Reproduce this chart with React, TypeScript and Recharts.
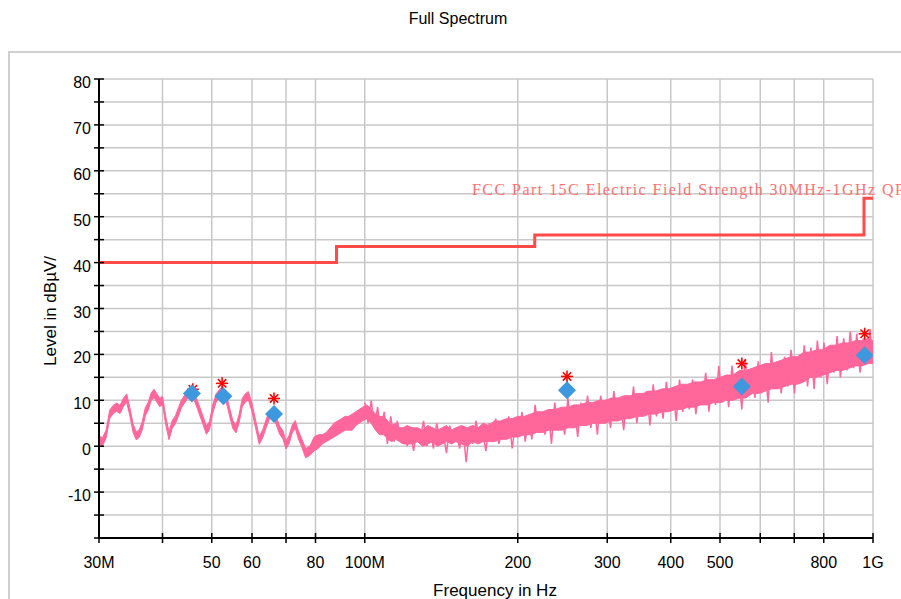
import { Area, CartesianGrid, ComposedChart, Line, Scatter, XAxis, YAxis } from 'recharts'

// measured trace, frequency in MHz, low/high edge of the pink trace in dBµV/m
const freqMHz = [
  30, 30.5, 31, 31.5, 32, 32.5, 33, 33.5, 34, 34.5, 35, 35.5, 36, 36.5, 37, 37.5, 38, 38.5, 39, 39.5,
  40, 40.6, 41.2, 41.8, 42.4, 43, 43.6, 44.2, 44.8, 45.4, 46, 46.7, 47.4, 48.1, 48.8, 49.5, 50.2, 51, 51.8, 52.6,
  53.4, 54.2, 55, 55.8, 56.6, 57.4, 58.2, 59, 60, 61, 62, 63, 64, 65, 66, 67, 68, 69, 70, 71,
  72, 73, 74, 75, 76.5, 78, 79.5, 81, 82.5, 84, 85.5, 87, 88.5, 90, 91.5, 93, 94.5, 96, 97.5, 99,
  101, 103, 105, 107, 109, 111, 113, 115, 117, 119, 121, 124, 127, 130, 133, 136, 139, 142, 145, 148,
  151, 155, 159, 163, 167, 171, 175, 180, 185, 190, 195, 200, 206, 212, 218, 224, 230, 237, 244, 251,
  258, 265, 273, 281, 289, 297, 306, 315, 324, 333, 343, 353, 363, 374, 385, 396, 408, 420, 432, 445,
  458, 472, 486, 500, 515, 530, 546, 562, 579, 596, 614, 632, 651, 670, 690, 710, 731, 753, 775, 798,
  822, 846, 871, 897, 924, 951, 979, 1000,
]
const levelLow = [
  0.4, 0.1, 1.9, 6.1, 7.1, 7.6, 7.1, 8.6, 9.6, 6.6, 3.1, 1.4, 1.9, 3.6, 6.6, 7.9, 9.9, 10.6, 9.6, 8.6,
  9.1, 4.6, 1.4, 3.9, 4.9, 6.6, 8.4, 9.4, 10.4, 10.9, 10.4, 8.6, 6.6, 4.6, 2.6, 3.6, 7.1, 9.6, 10.6, 11.1,
  9.6, 6.6, 3.9, 2.9, 5.1, 8.6, 9.6, 10.1, 7.6, 3.9, 0.4, 1.9, 4.1, 6.1, 6.4, 4.6, 2.6, 1.6, -0.6, 0.6,
  2.9, 3.9, 1.6, 0.1, -2.5, -2, -1, -0.5, 0.5, 1, 1.5, 2, 2.5, 3, 3.5, 3.5, 3.5, 4.5, 5, 5.5,
  6, 5, 3.5, 2.5, 2.5, 1.5, 1, 1.5, 1, 0.5, 0.5, 0.5, 1, 0, 0.5, 1, 0, 0.5, 1, 0.5,
  1, 0.5, 0, 1, 0.5, 1, 1, 1, 1.5, 1.5, 2, 2, 2.5, 2.5, 3, 3, 3.5, 3.5, 3.5, 4,
  4, 4.5, 4.5, 5, 5, 5, 5.5, 5.5, 6, 6, 6.5, 6.5, 7, 7, 7.5, 7.5, 8, 8, 8.5, 8.5,
  9, 9, 9.5, 9.5, 10, 10, 10.5, 10.5, 11.5, 11.5, 12, 12.5, 12.5, 13, 13.5, 13.5, 14, 15, 15, 15.5,
  16, 16.5, 16.5, 17, 17.5, 17.5, 18, 18,
]
const levelHigh = [
  2.1, 1.9, 3.6, 7.9, 8.9, 9.4, 8.9, 10.4, 11.4, 8.4, 4.9, 3.1, 3.6, 5.4, 8.4, 9.6, 11.6, 12.4, 11.4, 10.4,
  10.9, 6.4, 3.1, 5.6, 6.6, 8.4, 10.1, 11.1, 12.1, 12.6, 12.1, 10.4, 8.4, 6.4, 4.4, 5.4, 8.9, 11.4, 12.4, 12.9,
  11.4, 8.4, 5.6, 4.6, 6.9, 10.4, 11.4, 11.9, 9.4, 5.6, 2.1, 3.6, 5.9, 7.9, 8.1, 6.4, 4.4, 3.4, 1.1, 2.4,
  4.6, 5.6, 3.4, 1.9, -0.5, 0, 2, 2.5, 2.5, 3, 4, 5, 5.5, 6, 6.5, 6.5, 7, 7.5, 8, 8.5,
  9, 8, 7, 6.5, 6.5, 5.5, 4.5, 5, 4, 4, 4.5, 4, 4, 3.5, 4.5, 4, 3.5, 4, 4.5, 3.5,
  4, 4.5, 4, 4.5, 4, 5, 4.5, 5.5, 5.5, 6, 6, 6.5, 6.5, 7, 7.5, 7.5, 8, 8, 8.5, 8.5,
  9, 9, 9.5, 9.5, 10, 10, 10.5, 10.5, 11, 11, 11.5, 11.5, 12, 12, 12.5, 12.5, 13, 13.5, 13.5, 14,
  14, 14.5, 14.5, 15, 15.5, 15.5, 16.5, 16.5, 17, 17.5, 18, 18, 18.5, 19, 19.5, 19.5, 20.5, 20.5, 21, 21,
  22, 22, 22.5, 22.5, 23, 23, 23.5, 23,
]

// fine noise of the trace above 100 MHz, read spike by spike
const noiseFreqMHz = [
  100, 101.5, 103, 104.5, 106, 107.6, 109.2, 110.8, 112.5, 114.2,
  115.9, 117.6, 119.4, 121.2, 123, 124.8, 126.7, 128.6, 130.5, 132.5,
  134.5, 136.5, 138.5, 140.6, 142.7, 144.8, 147, 149.2, 151.4, 153.7,
  156, 158.3, 160.7, 163.1, 165.5, 168, 170.5, 173.1, 175.7, 178.3,
  181, 183.7, 186.5, 189.3, 192.1, 195, 197.9, 200.9, 203.9, 206.9,
  210, 213.2, 216.4, 219.6, 222.9, 226.2, 229.6, 233, 236.5, 240,
  243.6, 247.3, 251, 254.7, 258.5, 262.4, 266.3, 270.3, 274.4, 278.5,
  282.7, 286.9, 291.2, 295.6, 300, 304.5, 309.1, 313.7, 318.4, 323.2,
  328, 332.9, 337.9, 343, 348.1, 353.3, 358.6, 364, 369.5, 375,
  380.6, 386.3, 392.1, 398, 404, 410, 416.2, 422.4, 428.7, 435.1,
  441.6, 448.2, 454.9, 461.7, 468.6, 475.6, 482.7, 490, 497.3, 504.8,
  512.4, 520.1, 527.9, 535.8, 543.8, 551.9, 560.2, 568.6, 577.1, 585.8,
  594.6, 603.5, 612.6, 621.8, 631.1, 640.6, 650.2, 659.9, 669.8, 679.8,
  690, 700.4, 710.9, 721.6, 732.4, 743.4, 754.5, 765.8, 777.3, 789,
  800.8, 812.8, 825, 837.4, 850, 862.7, 875.6, 888.7, 902, 915.5,
  929.2, 943.1, 957.3, 971.7, 986.3, 1000,
]
const noiseLevel = [
  9.5, 5, 10, 4, 8.5, 2.5, 7.5, 0.5, 6.5, 1,
  5.5, 1.5, 4, 0, 3, -1, 4, 1.5, 5.5, 0,
  3.5, -0.5, 5, 1.5, 3, -1.5, 4.5, 1, 3, -0.5,
  4, -3.5, 3.5, 0.5, 5.5, 1.5, 3, -1, 5, 1,
  6, 0.5, 4, 2, 6.5, -0.5, 5, 2, 7.5, 1,
  6.5, 1.5, 9, 3, 6, 2.5, 8, 0.5, 9.5, 3.5,
  8, 2.5, 10.5, 4.5, 8.5, 2, 9.5, 5, 11, 4,
  9, 2.5, 11, 5.5, 9.5, 4, 12, 6, 10, 3.5,
  11, 6, 13, 5, 10.5, 7, 12, 4.5, 13.5, 6.5,
  12, 6, 14, 8, 12.5, 5.5, 14.5, 7.5, 12.5, 8,
  14.5, 7, 13.5, 9.5, 16, 7.5, 14, 9, 17.5, 9.5,
  15.5, 8.5, 17.5, 11, 16, 8, 19, 11.5, 16.5, 10.5,
  18.5, 11.5, 17.5, 9.5, 20.5, 12.5, 18, 11.5, 19.5, 13,
  21, 11.5, 19.5, 14, 22, 13, 21.5, 12.5, 23, 15,
  22.5, 13.5, 21.5, 16, 24, 15, 23.5, 16.5, 25, 17,
  24.5, 16, 23.5, 18, 25.5, 18,
]

// FCC Part 15C QP limit steps
const limitFreq = [30, 88, 216, 960, 1000]
const limitLevel = [40, 43.5, 46, 54, 54]

// peak search (red asterisks) and final QP (blue diamonds)
const peakFreq = [45.9, 52.4, 66.3, 250, 552, 963]
const peakLevel = [12.4, 13.7, 10.4, 15.2, 18, 24.5]
const qpFreq = [45.7, 52.7, 66.3, 250, 552, 963]
const qpLevel = [11.5, 10.9, 7.0, 12.2, 13.0, 19.8]

const xTicks = [30, 40, 50, 60, 70, 80, 100, 200, 300, 400, 500, 600, 700, 800, 1000]
const xTickLabels = ['30M', '', '50', '60', '', '80', '100M', '200', '300', '400', '500', '', '', '800', '1G']
const yTicks = [-20, -15, -10, -5, 0, 5, 10, 15, 20, 25, 30, 35, 40, 45, 50, 55, 60, 65, 70, 75, 80]

const traceRows = freqMHz.map((f, i) => ({ f, band: [levelLow[i], levelHigh[i]] }))
const noiseRows = noiseFreqMHz.map((f, i) => ({ f, level: noiseLevel[i] }))
const limitRows = limitFreq.map((f, i) => ({ f, level: limitLevel[i] }))
const peakRows = peakFreq.map((f, i) => ({ f, level: peakLevel[i] }))
const qpRows = qpFreq.map((f, i) => ({ f, level: qpLevel[i] }))

const AXIS_X = 99
const AXIS_Y = 538
const FONT = '"Liberation Sans", Arial, sans-serif'
const TRACE = '#ff6699'

function XTick(props: any) {
  const { x, payload } = props
  const label = xTickLabels[xTicks.indexOf(payload.value)] ?? ''
  return (
    <g>
      <line x1={x} x2={x} y1={AXIS_Y - 5} y2={AXIS_Y + 5} stroke="#000" strokeWidth={1.5} />
      <text x={x} y={AXIS_Y + 30} textAnchor="middle" fontSize={16} fontFamily={FONT} fill="#000">
        {label}
      </text>
    </g>
  )
}

function YTick(props: any) {
  const { y, payload } = props
  const v = payload.value
  const show = v % 10 === 0 && v > -20
  return (
    <g>
      <line x1={AXIS_X - 5} x2={AXIS_X + 5} y1={y} y2={y} stroke="#000" strokeWidth={1.5} />
      {show && (
        <text x={AXIS_X - 8} y={y + 9} textAnchor="end" fontSize={16} fontFamily={FONT} fill="#000">
          {v}
        </text>
      )}
    </g>
  )
}

function Asterisk(props: any) {
  const { cx, cy } = props
  const r = 6
  const d = 4.2
  return (
    <g stroke="#ff0000" strokeWidth={1.6}>
      <line x1={cx - r} x2={cx + r} y1={cy} y2={cy} />
      <line x1={cx} x2={cx} y1={cy - r} y2={cy + r} />
      <line x1={cx - d} x2={cx + d} y1={cy - d} y2={cy + d} />
      <line x1={cx - d} x2={cx + d} y1={cy + d} y2={cy - d} />
    </g>
  )
}

function Diamond(props: any) {
  const { cx, cy } = props
  const r = 9
  return <polygon points={`${cx},${cy - r} ${cx + r},${cy} ${cx},${cy + r} ${cx - r},${cy}`} fill="#3d98dd" />
}

export default function App() {
  return (
    <div style={{ position: 'absolute', left: 0, top: 0, width: 901, height: 599, background: '#fff', fontFamily: FONT }}>
      <svg width={901} height={599} style={{ position: 'absolute', left: 0, top: 0 }}>
        <path d="M 9 600 L 9 52 L 905 52" fill="none" stroke="#cfcfcf" strokeWidth={2} />
      </svg>
      <div style={{ position: 'absolute', left: 0, top: 0 }}>
        <ComposedChart width={901} height={599} data={traceRows} margin={{ top: 79, right: 28, bottom: 0, left: 0 }}>
          <CartesianGrid stroke="#c8c8c8" strokeWidth={1.5} />
          <XAxis
            dataKey="f"
            type="number"
            scale="log"
            domain={[30, 1000]}
            allowDataOverflow
            ticks={xTicks}
            interval={0}
            height={61}
            axisLine={{ stroke: '#000', strokeWidth: 2 }}
            tickLine={false}
            tick={XTick}
          />
          <YAxis
            type="number"
            domain={[-20, 80]}
            ticks={yTicks}
            interval={0}
            width={99}
            axisLine={{ stroke: '#000', strokeWidth: 2 }}
            tickLine={false}
            tick={YTick}
          />
          <Area
            dataKey="band"
            type="linear"
            stroke={TRACE}
            strokeWidth={1}
            fill={TRACE}
            fillOpacity={1}
            isAnimationActive={false}
            dot={false}
            activeDot={false}
          />
          <Line
            data={noiseRows}
            dataKey="level"
            type="linear"
            stroke={TRACE}
            strokeWidth={1.5}
            dot={false}
            activeDot={false}
            isAnimationActive={false}
          />
          <Line
            data={limitRows}
            dataKey="level"
            type="stepAfter"
            stroke="#ff4a4a"
            strokeWidth={3}
            dot={false}
            activeDot={false}
            isAnimationActive={false}
          />
          <Scatter data={peakRows} dataKey="level" shape={Asterisk} isAnimationActive={false} />
          <Scatter data={qpRows} dataKey="level" shape={Diamond} isAnimationActive={false} />
        </ComposedChart>
      </div>
      <svg width={901} height={599} style={{ position: 'absolute', left: 0, top: 0, pointerEvents: 'none' }}>
        <text x={458} y={24} textAnchor="middle" fontSize={16} fontFamily={FONT} fill="#000">
          Full Spectrum
        </text>
        <text
          x={472}
          y={195}
          fontSize={16}
          fontFamily='"Liberation Serif", "DejaVu Serif", serif'
          fill="#ff7070"
          textLength={432}
          lengthAdjust="spacing"
        >
          FCC Part 15C Electric Field Strength 30MHz-1GHz QP
        </text>
        <text x={495} y={596} textAnchor="middle" fontSize={17} fontFamily={FONT} fill="#000">
          Frequency in Hz
        </text>
        <text
          x={0}
          y={0}
          transform="translate(56 311) rotate(-90)"
          textAnchor="middle"
          fontSize={17}
          fontFamily={FONT}
          fill="#000"
        >
          Level in dBµV/
        </text>
      </svg>
    </div>
  )
}
